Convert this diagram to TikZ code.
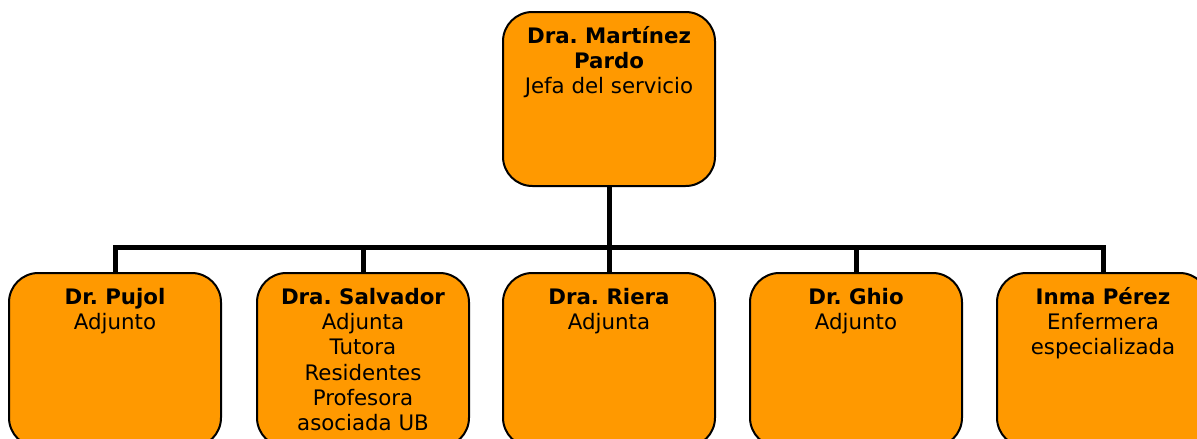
\documentclass[tikz,border=0pt]{standalone}
\usepackage{fontspec}
\setmainfont{DejaVu Sans}
\frenchspacing
\definecolor{boxorange}{HTML}{FF9900}
\newcommand{\boxtext}[1]{\parbox[t][130.5pt][t]{159pt}{\centering\rule{0pt}{23.25pt}#1}}
\begin{document}
\begin{tikzpicture}[x=0.75pt,y=-0.75pt,
    person/.style={draw=black, line width=1.5pt, fill=boxorange, rounded corners=22pt, inner sep=0pt, font=\fontsize{16}{19}\selectfont},
    link/.style={draw=black, line width=3.75pt}]
    \useasboundingbox (0,0) rectangle (1197,439);
    \clip (0,0) rectangle (1197,439);

    \node[person] (jefa) at (609, 99) {\boxtext{\textbf{Dra. Martínez}\\ \textbf{Pardo}\\ Jefa del servicio}};
    \node[person] (pujol) at (115, 360) {\boxtext{\textbf{Dr. Pujol}\\ Adjunto}};
    \node[person] (salvador) at (363, 360) {\boxtext{\textbf{Dra. Salvador}\\ Adjunta\\ Tutora\\ Residentes\\ Profesora\\ asociada UB}};
    \node[person] (riera) at (609, 360) {\boxtext{\textbf{Dra. Riera}\\ Adjunta}};
    \node[person] (ghio) at (856, 360) {\boxtext{\textbf{Dr. Ghio}\\ Adjunto}};
    \node[person] (perez) at (1103, 360) {\boxtext{\textbf{Inma Pérez}\\ Enfermera\\ especializada}};

    \coordinate (bar) at (609, 247);

    \draw[link] (jefa.south) -- (riera.north);
    \draw[link] (pujol.north) |- (bar) -| (perez.north);
    \draw[link] (salvador.north) -- (salvador.north |- bar);
    \draw[link] (ghio.north) -- (ghio.north |- bar);
\end{tikzpicture}
\end{document}
